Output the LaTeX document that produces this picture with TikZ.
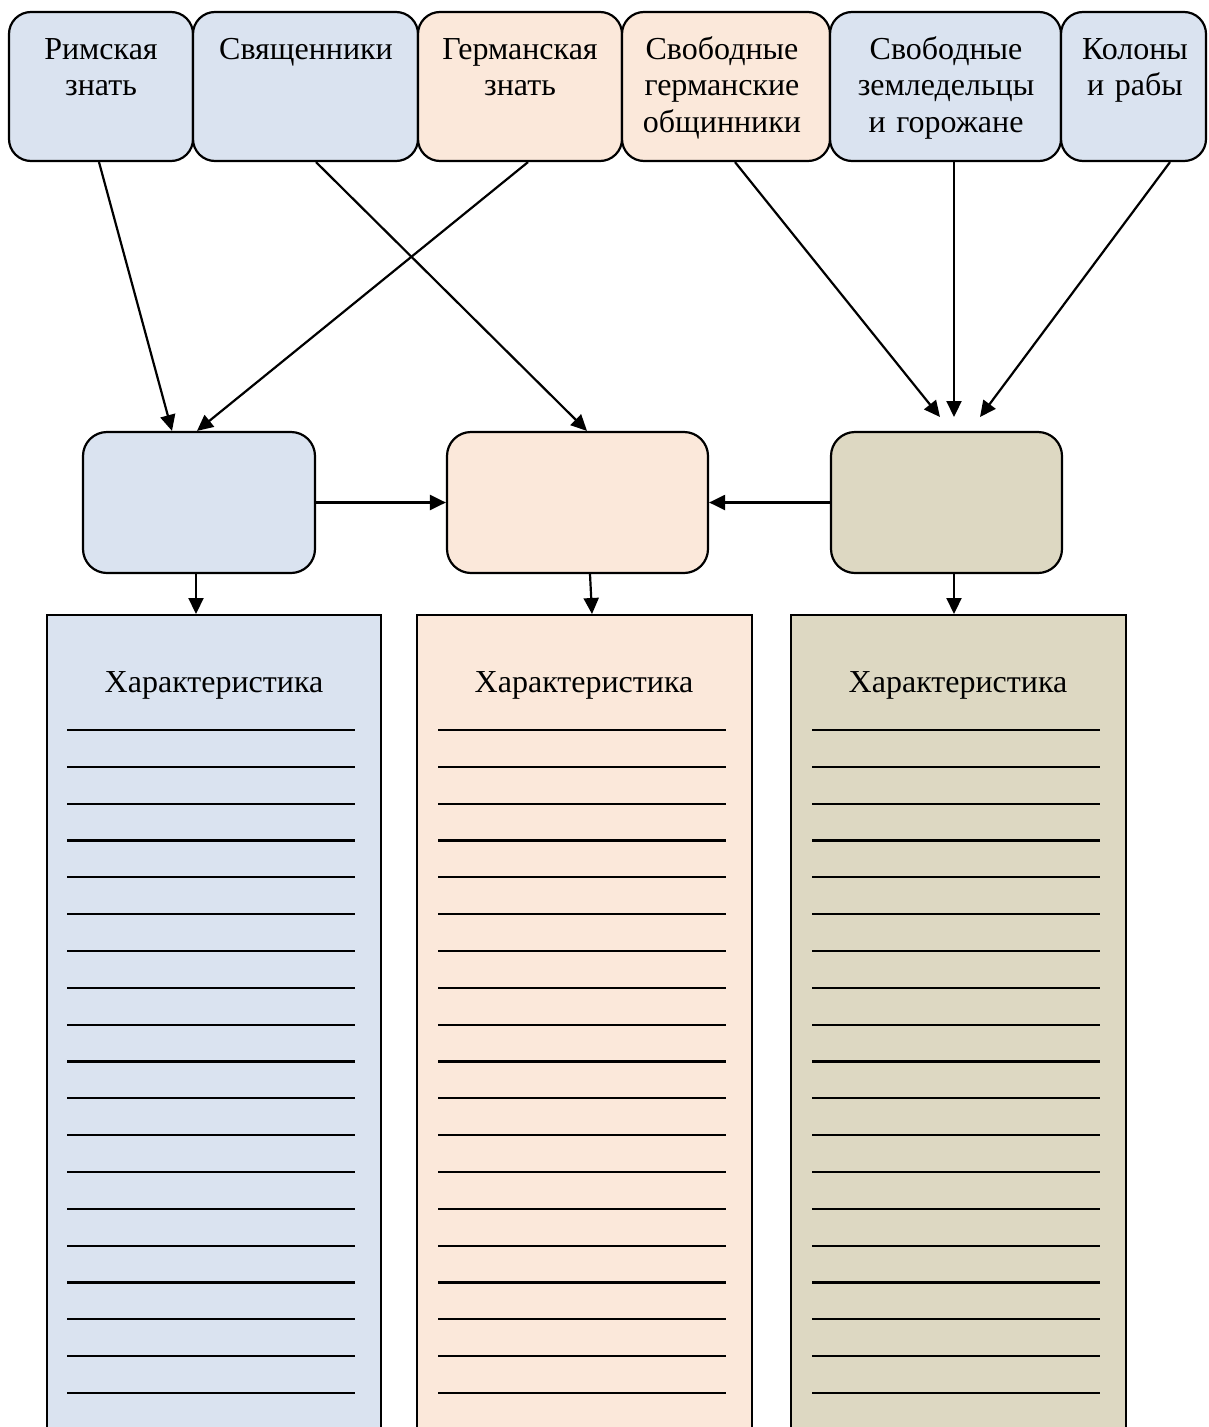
\documentclass[tikz,border=0pt]{standalone}
\usepackage{fontspec}
\setmainfont{Liberation Serif}
\usetikzlibrary{arrows.meta}
\definecolor{cblue}{HTML}{DAE3F0}
\definecolor{cpeach}{HTML}{FBE8DA}
\definecolor{ctan}{HTML}{DDD8C2}
\tikzset{
  topbox/.style={draw=black, line width=2.2pt, rounded corners=22pt, minimum height=149pt, inner sep=0pt, anchor=center},
  midbox/.style={draw=black, line width=2.2pt, rounded corners=24pt, minimum width=#1, minimum height=141pt, inner sep=0pt},
  colbox/.style={draw=black, line width=2.2pt, minimum width=#1, minimum height=840pt, inner sep=0pt, anchor=north},
  toptext/.style={anchor=base, text width=220pt, align=center, inner sep=0pt, font=\fontsize{32}{36.5}\selectfont},
  chartext/.style={anchor=base, inner sep=0pt, font=\fontsize{32}{36.5}\selectfont},
  conn/.style={line width=2.2pt, -{Triangle[length=16pt,width=15pt]}},
  rule/.style={line width=2.2pt}
}
\begin{document}
\begin{tikzpicture}[x=1pt,y=-1pt]
\clip (0,0) rectangle (1208,1427);
\fill[white] (0,0) rectangle (1208,1427);
% top boxes
\node[topbox, fill=cblue, minimum width=184pt] (r1) at (101,86.5) {};
\node[topbox, fill=cblue, minimum width=225pt] (r2) at (305.5,86.5) {};
\node[topbox, fill=cpeach, minimum width=204pt] (r3) at (520,86.5) {};
\node[topbox, fill=cpeach, minimum width=208pt] (r4) at (726,86.5) {};
\node[topbox, fill=cblue, minimum width=231pt] (r5) at (945.5,86.5) {};
\node[topbox, fill=cblue, minimum width=145pt] (r6) at (1133.5,86.5) {};
\node[toptext] (t1) at (101,59) {Римская\\знать};
\node[toptext] (t2) at (306,59) {Священники};
\node[toptext] (t3) at (520,59) {Германская\\знать};
\node[toptext] (t4) at (722,59) {Свободные\\германские\\общинники};
\node[toptext] (t5) at (946,59) {Свободные\\земледельцы\\и горожане};
\node[toptext] (t6) at (1135,59) {Колоны\\и рабы};
% middle boxes
\node[midbox=232pt, fill=cblue] (A) at (199,502.5) {};
\node[midbox=261pt, fill=cpeach] (B) at (577.5,502.5) {};
\node[midbox=231pt, fill=ctan] (C) at (946.5,502.5) {};
% column boxes
\node[colbox=334pt, fill=cblue] (b1) at (214,614) {};
\node[colbox=335pt, fill=cpeach] (b2) at (584.5,614) {};
\node[colbox=335pt, fill=ctan] (b3) at (958.5,614) {};
\node[chartext] (h1) at (214,692) {Характеристика};
\node[chartext] (h2) at (584,692) {Характеристика};
\node[chartext] (h3) at (958,692) {Характеристика};
\foreach \i in {0,...,18}{
  \draw[rule] (67,730+36.83*\i) -- (355,730+36.83*\i);
  \draw[rule] (438,730+36.83*\i) -- (726,730+36.83*\i);
  \draw[rule] (812,730+36.83*\i) -- (1100,730+36.83*\i);
}
% free arrow ends above C
\coordinate (e1) at (940,417);
\coordinate (e2) at (954,417);
\coordinate (e3) at (980,417);
% connectors
\draw[conn] ([xshift=-2pt]r1.south) -- ([xshift=-27pt]A.north);
\draw[conn] ([xshift=8pt]r3.south) -- ([xshift=-2pt]A.north);
\draw[conn] ([xshift=10.5pt]r2.south) -- ([xshift=9.5pt]B.north);
\draw[conn] ([xshift=9pt]r4.south) -- (e1);
\draw[conn] ([xshift=8.5pt]r5.south) -- (e2);
\draw[conn] ([xshift=36.5pt]r6.south) -- (e3);
\draw[conn] (A.east) -- (B.west);
\draw[conn] (C.west) -- (B.east);
\draw[conn] ([xshift=-3pt]A.south) -- ([xshift=-18pt]b1.north);
\draw[conn] ([xshift=12.5pt]B.south) -- ([xshift=7.5pt]b2.north);
\draw[conn] ([xshift=7.5pt]C.south) -- ([xshift=-4.5pt]b3.north);
\end{tikzpicture}
\end{document}
